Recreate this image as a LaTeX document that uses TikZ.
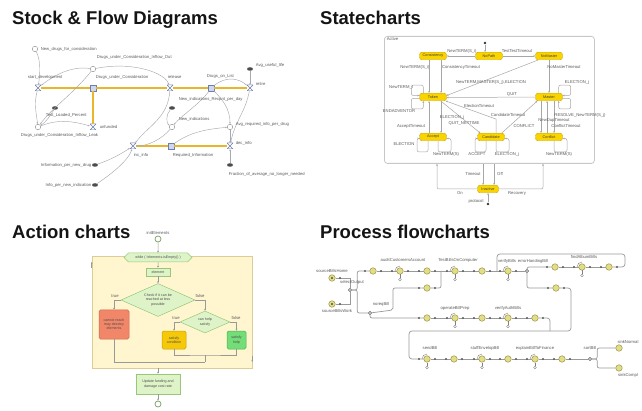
\documentclass[tikz,border=0pt]{standalone}
\usepackage{fontspec}
\setmainfont{Liberation Sans}
\usetikzlibrary{arrows.meta,calc,positioning,shapes.geometric,shapes.symbols}
\definecolor{ink}{RGB}{20,20,20}
\definecolor{linkgray}{RGB}{165,170,178}
\definecolor{flowgold}{RGB}{232,182,40}
\definecolor{stockfill}{RGB}{205,215,240}
\definecolor{stockstroke}{RGB}{110,125,170}
\definecolor{stateyellow}{RGB}{250,212,0}
\definecolor{statestroke}{RGB}{205,165,0}
\definecolor{loopfill}{RGB}{255,246,208}
\definecolor{loopstroke}{RGB}{222,204,150}
\definecolor{actfill}{RGB}{222,244,200}
\definecolor{actstroke}{RGB}{150,200,120}
\definecolor{redfill}{RGB}{242,134,104}
\definecolor{redstroke}{RGB}{205,100,75}
\definecolor{goldfill}{RGB}{245,200,10}
\definecolor{goldstroke}{RGB}{200,160,0}
\definecolor{greenfill}{RGB}{115,222,120}
\definecolor{greenstroke}{RGB}{75,175,80}
\definecolor{pfill}{RGB}{226,222,135}
\definecolor{pstroke}{RGB}{155,148,70}
\tikzset{
  ttl/.style={anchor=base west, font=\fontsize{18.5}{20}\selectfont\bfseries, text=ink, inner sep=0pt},
  lbl/.style={font=\fontsize{4.2}{4.8}\selectfont, text=black!65, inner sep=0.6pt},
  stock/.style={draw=stockstroke, fill=stockfill, minimum size=5.5pt, inner sep=0pt},
  valve/.style={minimum size=6pt, inner sep=0pt,
    path picture={\draw[stockstroke, line width=0.5pt, fill=white]
      (path picture bounding box.north west) -- (path picture bounding box.north east)
      -- (path picture bounding box.south west) -- (path picture bounding box.south east) -- cycle;}},
  aux/.style={circle, draw=black!45, fill=white, minimum size=5.5pt, inner sep=0pt},
  param/.style={ellipse, fill=black!70, minimum width=6pt, minimum height=3.5pt, inner sep=0pt},
  flow/.style={line width=2.4pt, draw=flowgold},
  link/.style={draw=linkgray, line width=0.45pt, -{Stealth[length=2pt,width=1.6pt]}},
  sstate/.style={draw=statestroke, fill=stateyellow, rounded corners=2.5pt,
    minimum width=27pt, minimum height=7.5pt, inner sep=0pt,
    font=\fontsize{3.8}{4}\selectfont, text=black!75},
  trans/.style={draw=black!35, line width=0.5pt, -{Stealth[length=2pt,width=1.8pt]}},
  selfloop/.style={trans, rounded corners=2pt},
  pseudo/.style={circle, fill=black!80, minimum size=2.8pt, inner sep=0pt},
  aframe/.style={draw=loopstroke, fill=loopfill, line width=0.6pt,
    minimum width=160pt, minimum height=112pt, inner sep=0pt},
  abox/.style={draw=actstroke, fill=actfill, line width=0.5pt, align=center,
    font=\fontsize{3.6}{4.2}\selectfont, text=black!70, inner sep=0.5pt},
  aline/.style={draw=black!40, line width=0.5pt, -{Stealth[length=2pt,width=1.8pt]}},
  aplain/.style={draw=black!40, line width=0.5pt},
  aterm/.style={circle, draw=actstroke!80!black, fill=white, line width=0.7pt, minimum size=6pt, inner sep=0pt},
  pq/.style={circle, draw=pstroke, fill=pfill, line width=0.5pt, minimum size=6.5pt, inner sep=0pt},
  psrc/.style={pq, path picture={\fill[black!70] (path picture bounding box.center) circle (1.2pt);}},
  psel/.style={diamond, draw=black!55, fill=black!25, minimum size=4pt, inner sep=0pt},
  pline/.style={draw=black!40, line width=0.7pt},
}
\begin{document}
\begin{tikzpicture}[x=1pt,y=-1pt]
  \useasboundingbox (0,0) rectangle (642,411);

  % titles
  \node[ttl] (tSF) at (12,25) {Stock \& Flow Diagrams};
  \node[ttl] (tSC) at (320,25) {Statecharts};
  \node[ttl] (tAC) at (12,239) {Action charts};
  \node[ttl] (tPF) at (320,239) {Process flowcharts};

  % ---- stock and flow
  \node[valve] (startdev) at (38,88) {};
  \node[stock] (duc) at (93,88) {};
  \node[valve] (release) at (170,88) {};
  \node[stock] (dol) at (211,88) {};
  \node[valve] (retire) at (250,88) {};
  \node[valve] (unfunded) at (93,127) {};
  \node[valve] (incinfo) at (133,146) {};
  \node[stock] (reqinfo) at (171,146) {};
  \node[valve] (decinfo) at (230,146) {};
  \node[aux] (newdrugs) at (35,49) {};
  \node[aux] (ducout) at (93,69) {};
  \node[aux] (ducleak) at (38,127) {};
  \node[aux] (newind) at (172,127) {};
  \node[aux] (avgreq) at (230,127) {};
  \node[param] (usefullife) at (250,69) {};
  \node[param] (testloaded) at (55,108) {};
  \node[param] (recpnt) at (172,108) {};
  \node[param] (infodrug) at (95,165) {};
  \node[param] (infoind) at (95,185) {};
  \node[param] (fraction) at (230,165) {};

  \draw[flow] (startdev) -- (duc);
  \draw[flow] (duc) -- (release);
  \draw[flow] (release) -- (dol);
  \draw[flow] (dol) -- (retire);
  \draw[flow] (duc) -- (unfunded);
  \draw[flow] (incinfo) -- (reqinfo);
  \draw[flow] (reqinfo) -- (decinfo);

  \draw[link] (newdrugs) .. controls +(6,12) and +(2,-14) .. (startdev);
  \draw[link] (ducout) .. controls +(-25,-4) and +(10,-8) .. (startdev);
  \draw[link] (ducout) .. controls +(40,-8) and +(-5,-15) .. (release);
  \draw[link] (ducout) .. controls +(-20,25) and +(15,-20) .. (ducleak);
  \draw[link] (startdev) .. controls +(-4,15) and +(-2,-15) .. (ducleak);
  \draw[link] (testloaded) .. controls +(-5,8) and +(8,-5) .. (ducleak);
  \draw[link] (ducleak) .. controls +(20,-8) and +(-20,-6) .. (unfunded);
  \draw[link] (release) .. controls +(-2,30) and +(15,-20) .. (incinfo);
  \draw[link] (dol) .. controls +(-10,15) and +(10,-12) .. (newind);
  \draw[link] (dol) .. controls +(12,12) and +(0,-18) .. (avgreq);
  \draw[link] (dol) .. controls +(15,-12) and +(-12,-10) .. (retire);
  \draw[link] (usefullife) -- (retire);
  \draw[link] (recpnt) .. controls +(-6,6) and +(-6,-4) .. (newind);
  \draw[link] (newind) .. controls +(-10,12) and +(15,0) .. (incinfo);
  \draw[link] (reqinfo) .. controls +(20,-15) and +(-20,2) .. (avgreq);
  \draw[link] (avgreq) -- (decinfo);
  \draw[link] (retire) .. controls +(-5,25) and +(5,-25) .. (decinfo);
  \draw[link] (fraction) -- (decinfo);
  \draw[link] (infodrug) .. controls +(15,-5) and +(-12,8) .. (incinfo);
  \draw[link] (infoind) .. controls +(15,-10) and +(-5,15) .. (incinfo);

  \node[lbl, anchor=west] (lNewDrugs) at (40,49) {New\_drugs\_for\_consideration};
  \node[lbl, anchor=west] (lDucOut) at (96,57) {Drugs\_under\_Consideration\_Inflow\_Out};
  \node[lbl, anchor=west] (lStartDev) at (27,77) {start\_development};
  \node[lbl, anchor=west] (lDuc) at (95,77) {Drugs\_under\_Consideration};
  \node[lbl, anchor=west] (lRelease) at (167,77) {release};
  \node[lbl, anchor=west] (lDol) at (206,76) {Drugs\_on\_List};
  \node[lbl, anchor=west] (lUseful) at (255,65) {Avg\_useful\_life};
  \node[lbl, anchor=west] (lRetire) at (255,84) {retire};
  \node[lbl, anchor=west] (lRecpnt) at (178,99) {New\_indications\_Recpnt\_per\_day};
  \node[lbl, anchor=west] (lTest) at (45,115) {Test\_Loaded\_Percent};
  \node[lbl, anchor=west] (lNewInd) at (178,119) {New\_indications};
  \node[lbl, anchor=west] (lAvgReq) at (235,124) {Avg\_required\_info\_per\_drug};
  \node[lbl, anchor=west] (lLeak) at (20,135) {Drugs\_under\_Consideration\_Inflow\_Leak};
  \node[lbl, anchor=west] (lUnfunded) at (99,127) {unfunded};
  \node[lbl, anchor=west] (lIncInfo) at (133,155) {inc\_info};
  \node[lbl, anchor=west] (lReqInfo) at (172,155) {Required\_Information};
  \node[lbl, anchor=west] (lDecInfo) at (235,143) {dec\_info};
  \node[lbl, anchor=east] (lInfoDrug) at (92,165) {Information\_per\_new\_drug};
  \node[lbl, anchor=east] (lInfoInd) at (92,185) {Info\_per\_new\_indication};
  \node[lbl, anchor=west] (lFraction) at (228,174) {Fraction\_of\_average\_no\_longer\_needed};

  % ---- statechart
  \node[draw=black!22, line width=0.8pt, rounded corners=3pt, minimum width=210pt,
    minimum height=127pt, inner sep=0pt, anchor=north west] (active) at (384,36) {};
  \node[lbl, anchor=north west] (lActive) at (386,37) {Active};
  \node[pseudo] (init) at (485,43) {};
  \node[sstate] (consist) at (433,56) {Consistency};
  \node[sstate] (nopath) at (489,56) {NoPath};
  \node[sstate] (nomaster) at (549,56) {NoMaster};
  \node[sstate] (token) at (433,97) {Token};
  \node[sstate] (master) at (549,97) {Master};
  \node[sstate] (accept) at (433,137) {Accept};
  \node[sstate] (cand) at (491,137) {Candidate};
  \node[sstate] (conflict) at (549,137) {Conflict};
  \node[sstate, minimum width=21pt] (inactive) at (488,189) {Inactive};
  \node[pseudo] (init2) at (488,204) {};

  \draw[trans] (init) -- (init |- nopath.north);
  \draw[trans] (nopath) -- (consist);
  \draw[trans] (nopath) -- (nomaster);
  \draw[trans] ($(consist.south)+(-4,0)$) -- ($(token.north)+(-4,0)$);
  \draw[trans] ($(consist.south)+(8,0)$) -- ($(token.north)+(8,0)$);
  \draw[trans] ($(nomaster.south west)+(3,0)$) -- ($(token.east)+(0,-1.5)$);
  \draw[trans] (nomaster) -- (master);
  \draw[trans] (master) -- ($(token.east)+(0,0.5)$);
  \draw[selfloop] ($(token.north west)+(4,0)$) -- ++(0,-8) -- ++(-12,0) |- ($(token.west)+(0,-1.5)$);
  \draw[selfloop] ($(token.west)+(0,1.5)$) -- ++(-8,0) -- ++(0,10.5) -- ++(12,0) -- ($(token.south west)+(4,0)$);
  \draw[selfloop] ($(master.north east)+(-4,0)$) -- ++(0,-8) -- ++(12,0) |- ($(master.east)+(0,-1.5)$);
  \draw[selfloop] ($(master.east)+(0,1.5)$) -- ++(8,0) -- ++(0,10.5) -- ++(-12,0) -- ($(master.south east)+(-4,0)$);
  \draw[trans] ($(accept.north)+(-4,0)$) -- ($(token.south)+(-4,0)$);
  \draw[trans] ($(token.south)+(8,0)$) -- ($(accept.north)+(8,0)$);
  \draw[trans] ($(cand.north)+(5,0)$) -- ++(0,-14) -- ($(token.south east)+(-1,0)$);
  \draw[trans] ($(token.south east)+(-6,0)$) -- ($(cand.north west)+(3,0)$);
  \draw[trans] ($(cand.north east)+(-3,0)$) -- ($(master.south west)+(2,0)$);
  \draw[trans] ($(master.south)+(-8,0)$) -- ($(conflict.north)+(-8,0)$);
  \draw[trans] ($(conflict.north)+(-2,0)$) -- ($(master.south)+(-2,0)$);
  \draw[trans] ($(master.south)+(5,0)$) -- ($(conflict.north)+(5,0)$);
  \foreach \st in {accept,cand} {
    \draw[selfloop] ($(\st.south)+(-5,0)$) -- ++(0,11) -- ++(-11,0) |- ($(\st.west)+(0,1.5)$);
    \draw[selfloop] ($(\st.south)+(5,0)$) -- ++(0,11) -- ++(13,0) |- ($(\st.east)+(0,1.5)$);
  }
  \draw[selfloop] ($(conflict.south)+(5,0)$) -- ++(0,11) -- ++(13,0) |- ($(conflict.east)+(0,1.5)$);
  \draw[trans] (active.south -| 483,0) -- (inactive.north -| 483,0);
  \draw[trans] (active.south -| 494,0) -- (inactive.north -| 494,0);
  \draw[trans, rounded corners=2pt] (inactive.west) -| (active.south -| 437,0);
  \draw[trans, rounded corners=2pt] (inactive.east) -| (active.south -| 543,0);
  \draw[trans] (init2) -- (inactive);

  \node[lbl] (lt1) at (462,51) {NewTERM(S\_i)};
  \node[lbl] (lt2) at (517,51) {TestTestTimeout};
  \node[lbl] (lt3) at (415,67) {NewTERM(S\_i)};
  \node[lbl] (lt4) at (461,67) {ConsistencyTimeout};
  \node[lbl] (lt5) at (564,67) {NoMasterTimeout};
  \node[lbl] (lt6) at (491,82) {NewTERM,MASTER(S\_j),ELECTION};
  \node[lbl] (lt7) at (577,82) {ELECTION\_j};
  \node[lbl] (lt8) at (401,87) {NewTERM\_i};
  \node[lbl] (lt9) at (512,94) {QUIT};
  \node[lbl] (lt10) at (399,111) {ENDADVENTOR};
  \node[lbl] (lt11) at (479,106) {ElectionTimeout};
  \node[lbl] (lt12) at (508,115) {CandidateTimeout};
  \node[lbl] (lt13) at (580,115) {RESOLVE\_NewTERM(S\_j)};
  \node[lbl] (lt14) at (452,117) {ELECTION\_j};
  \node[lbl] (lt15) at (464,123) {QUIT\_NETTIME};
  \node[lbl] (lt16) at (554,120) {NewDupTimeout};
  \node[lbl] (lt17) at (411,126) {AcceptTimeout};
  \node[lbl] (lt18) at (524,126) {CONFLICT};
  \node[lbl] (lt19) at (566,126) {ConflictTimeout};
  \node[lbl] (lt20) at (404,144) {ELECTION};
  \node[lbl] (lt21) at (446,154) {NewTERM(S)};
  \node[lbl] (lt22) at (477,154) {ACCEPT};
  \node[lbl] (lt23) at (507,154) {ELECTION\_j};
  \node[lbl] (lt24) at (559,154) {NewTERM(S)};
  \node[lbl] (lt25) at (473,174) {Timeout};
  \node[lbl] (lt26) at (500,174) {Off};
  \node[lbl] (lt27) at (460,193) {On};
  \node[lbl] (lt28) at (517,193) {Recovery};
  \node[lbl] (lt29) at (476,201) {protocol};

  % ---- action chart
  \node[aframe] (frame) at (172,312) {};
  \node[aterm] (astart) at (158,239) {};
  \node[lbl, above=0.5pt of astart] (lInit) {initElements};
  \node[abox, signal, signal to=west and east, minimum width=68pt, minimum height=9pt] (whilen) at (158,257.5) {while ( !elements.isEmpty() )};
  \node[abox, minimum width=24pt, minimum height=8pt] (elem) at (158,272) {element};
  \node[abox, diamond, aspect=2.2, minimum width=74pt, minimum height=33pt, inner sep=0pt] (dia1) at (158,300) {Check if it can be\\reached at less\\possible};
  \node[abox, draw=redstroke, fill=redfill, rounded corners=1.5pt, minimum width=30pt, minimum height=29pt] (red) at (114,324.5) {cannot reach\\may destroy\\elements};
  \node[abox, diamond, aspect=2.2, minimum width=50pt, minimum height=22pt, inner sep=0pt] (dia2) at (205,322) {can help\\satisfy};
  \node[abox, draw=goldstroke, fill=goldfill, rounded corners=1.5pt, minimum width=24pt, minimum height=18pt] (gold) at (174,340) {satisfy\\condition};
  \node[abox, draw=greenstroke, fill=greenfill, rounded corners=1.5pt, minimum width=19pt, minimum height=18pt] (green) at (236.5,340) {satisfy\\help};
  \node[abox, minimum width=44pt, minimum height=20pt] (upd) at (158,384) {Update funding and\\damage cost rate};
  \node[aterm] (aend) at (158,404) {};
  \coordinate (mg1) at (205,355);
  \coordinate (mg2) at (205,362);

  \draw[aline] (astart) -- (whilen);
  \draw[aline] (whilen) -- (elem);
  \draw[aline] (elem) -- (dia1);
  \draw[aline] (dia1.west) -| (red.north);
  \draw[aline] (dia1.east) -| (dia2.north);
  \draw[aline] (dia2.west) -| (gold.north);
  \draw[aline] (dia2.east) -| (green.north);
  \draw[aplain] (gold.south) |- (mg1) -| (green.south);
  \draw[aplain] (mg1) -- (mg2);
  \draw[aplain] (red.south) |- (mg2);
  \draw[aline] (upd |- frame.south) -- (upd.north);
  \draw[aline] (upd) -- (aend);
  \draw[aline] ($(frame.west)+(0,-44)$) -- ($(frame.west)+(0,-50)$);
  \draw[aline] ($(frame.east)+(0,44)$) -- ($(frame.east)+(0,50)$);
  \node[lbl] (lTrue1) at (115,296) {true};
  \node[lbl] (lFalse1) at (200,296) {false};
  \node[lbl] (lTrue2) at (176,318) {true};
  \node[lbl] (lFalse2) at (236,318) {false};

  % ---- process flowchart
  \node[psrc] (src1) at (332,278) {};
  \node[psrc] (src2) at (332,304) {};
  \node[psel] (s1) at (350,290) {};
  \node[psel] (s2) at (370,313) {};
  \node[psel] (s3) at (527,271) {};
  \node[psel] (s4) at (590,359) {};
  \foreach \nm/\x/\y in {q1/373/271, q2/427/271, q3/482/271, q4/555/267, q5/609/267,
      q6/556/288, q7/427/288, q8/427/318, q9/482/318, q10/535/318,
      q11/454/359, q12/508/359, q13/562/359,
      d1/400/271, d2/455/271, d3/508/271, d4/582/267, d5/455/318, d6/508/318,
      d7/427/359, d8/482/359, d9/535/359}
    \node[pq] (\nm) at (\x,\y) {};
  \node[pq] (k1) at (619,348) {};
  \node[pq] (k2) at (619,368) {};
  \coordinate (lpa) at (625,254);
  \coordinate (lpb) at (497,254);
  \coordinate (rt1) at (571,331);
  \coordinate (rt2) at (409,331);
  \coordinate (rt3) at (550,331);
  \coordinate (s2up) at (393,310);

  \draw[pline] (src1) -| (s1.north);
  \draw[pline] (src2) -| (s1.south);
  \draw[pline, rounded corners=2pt] (s1.east) -- ++(5,0) |- (q1);
  \draw[pline, rounded corners=2pt] (s1.east) -- ++(5,0) |- (s2.west);
  \draw[pline, rounded corners=2pt] (s2) -- (s2up) |- (q7);
  \draw[pline, rounded corners=2pt] (s2) |- (q8);
  \draw[pline, rounded corners=2pt] (q7) -| (441,271);
  \draw[pline] (q1) -- (d1) -- (q2) -- (d2) -- (q3) -- (d3) -- (s3);
  \draw[pline, rounded corners=2pt] (s3) |- (q4);
  \draw[pline] (q4) -- (d4) -- (q5);
  \draw[pline, rounded corners=3pt] (q5) -| (lpa) -- (lpb) -- (lpb |- d3);
  \draw[pline, rounded corners=2pt] (s3) |- (q6);
  \draw[pline, rounded corners=3pt] (q6) -| (rt1) -- (rt2) |- (d7);
  \draw[pline] (q8) -- (d5) -- (q9) -- (d6) -- (q10);
  \draw[pline, rounded corners=3pt] (q10) -| (rt3);
  \draw[pline] (d7) -- (q11) -- (d8) -- (q12) -- (d9) -- (q13) -- (s4);
  \draw[pline, rounded corners=2pt] (s4.east) -- ++(5,0) |- (k1);
  \draw[pline, rounded corners=2pt] (s4.east) -- ++(5,0) |- (k2);

  % ports and delay marks
  \foreach \x/\y in {373/271, 427/271, 482/271, 555/267, 609/267, 556/288, 427/288,
      427/318, 482/318, 535/318, 454/359, 508/359, 562/359,
      400/271, 455/271, 508/271, 582/267, 455/318, 508/318, 427/359, 482/359, 535/359} {
    \fill[black!65] (\x-8,\y) circle (1.1pt);
    \fill[black!65] (\x+8,\y) circle (1.1pt);
  }
  \foreach \x/\y in {400/271, 455/271, 508/271, 582/267, 455/318, 508/318, 427/359, 482/359, 535/359} {
    \draw[black!50, line width=0.4pt] (\x-5,\y) arc[start angle=180, end angle=270, radius=5];
    \draw[black!50, line width=0.4pt] (\x,\y+3.5) -- (\x,\y+7);
    \draw[black!50, line width=0.4pt] (\x,\y+8.5) circle (1.4pt);
  }
  \fill[black!65] (340,278) circle (1.1pt);
  \fill[black!65] (340,304) circle (1.1pt);

  \node[lbl] (lSrc1) at (332,271) {sourceBillsHome};
  \node[lbl] (lSrc2) at (337,311) {sourceBillsWork};
  \node[lbl] (lS1) at (352,282) {selectOutput};
  \node[lbl] (lS2) at (381,304) {noreqBill};
  \node[lbl] (lD1) at (403,260) {auditCustomersAccount};
  \node[lbl] (lD2) at (458,260) {TestBillsOnComputer};
  \node[lbl] (lD3) at (507,261) {verifyBills};
  \node[lbl] (lS3) at (533,261) {errorHandingBill};
  \node[lbl] (lD4) at (584,257) {findAlbumBills};
  \node[lbl] (lD5) at (455,308) {operateBillPrep};
  \node[lbl] (lD6) at (508,308) {verifyAuthBills};
  \node[lbl] (lD7) at (430,348) {sendBill};
  \node[lbl] (lD8) at (485,348) {stuffEnvelopBill};
  \node[lbl] (lD9) at (535,348) {explainBillToFinance};
  \node[lbl] (lS4) at (590,348) {sortBill};
  \node[lbl] (lK1) at (628,342) {sinkNormal};
  \node[lbl] (lK2) at (628,375) {sinkCompl};
\end{tikzpicture}
\end{document}
